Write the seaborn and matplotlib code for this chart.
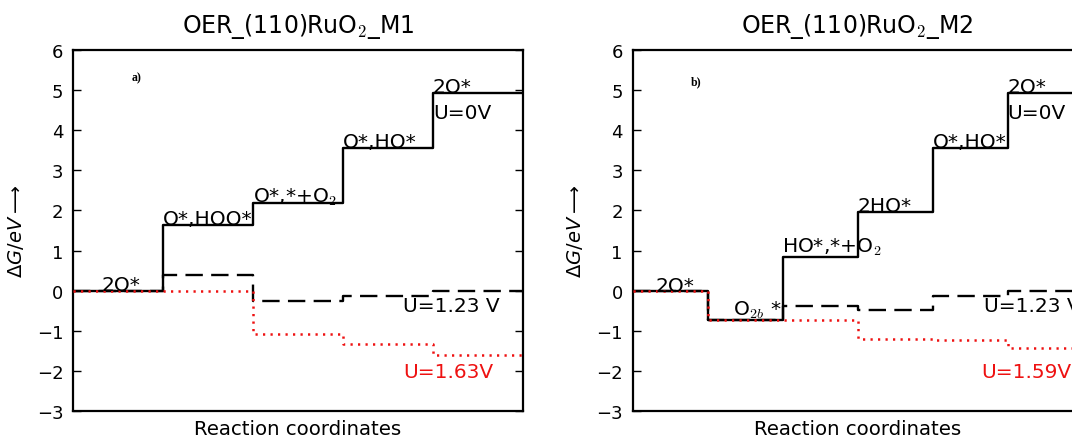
import numpy as np
import pandas as pd
import matplotlib
matplotlib.use("Agg")
import matplotlib.pyplot as plt
import seaborn as sns

# ---------------- data ----------------
titles = ["OER_(110)RuO$_2$_M1", "OER_(110)RuO$_2$_M2"]
panel_tags = ["a)", "b)"]

states_m1 = ["2O*", "O*,HOO*", "O*,*+O$_2$", "O*,HO*", "2O*"]
g_m1_u0 = [0.0, 1.63, 2.19, 3.55, 4.92]
g_m1_u123 = [0.0, 0.40, -0.27, -0.14, 0.0]
g_m1_u163 = [0.0, 0.0, -1.07, -1.34, -1.60]

states_m2 = ["2O*", "O$_{2b}$ *", "HO*,*+O$_2$", "2HO*", "O*,HO*", "2O*"]
g_m2_u0 = [0.0, -0.72, 0.85, 1.97, 3.55, 4.92]
g_m2_u123 = [0.0, -0.72, -0.38, -0.49, -0.14, 0.0]
g_m2_u159 = [0.0, -0.72, -0.74, -1.21, -1.22, -1.44]

u_labels_m1 = ["U=0V", "U=1.23 V", "U=1.63V"]
u_labels_m2 = ["U=0V", "U=1.23 V", "U=1.59V"]

y_ticks = [-3, -2, -1, 0, 1, 2, 3, 4, 5, 6]

# ---------------- layout ----------------
W, H = 1072, 439
sns.set_theme(style="white")
plt.rcParams["font.family"] = ["DejaVu Sans"]
plt.rcParams["lines.scale_dashes"] = False
plt.rcParams["text.color"] = "black"
plt.rcParams["axes.labelcolor"] = "black"
plt.rcParams["xtick.color"] = "black"
plt.rcParams["ytick.color"] = "black"

fig = plt.figure(figsize=(W / 100, H / 100), dpi=100)
ax_w = 450 / W
ax_h = 361 / H
ax_b = (H - 412) / H
axes = [fig.add_axes([73 / W, ax_b, ax_w, ax_h]),
        fig.add_axes([632.5 / W, ax_b, ax_w, ax_h])]

panels = [
    dict(states=states_m1, u0=g_m1_u0, u1=g_m1_u123, u2=g_m1_u163, ul=u_labels_m1,
         dx=[0.32, 0, 0, 0, 0], dy=[0.02, 0.04, 0.03, 0.04, 0.03],
         u1pos=(3.67, -0.50), u2pos=(3.67, -2.16), tagpos=(0.71, 5.32)),
    dict(states=states_m2, u0=g_m2_u0, u1=g_m2_u123, u2=g_m2_u159, ul=u_labels_m2,
         dx=[0.31, 0.34, 0, 0, 0, 0], dy=[0.0, 0.13, 0.13, 0.01, 0.04, 0.03],
         u1pos=(4.68, -0.50), u2pos=(4.65, -2.16), tagpos=(0.85, 5.21)),
]

red = "#ee1111"
styles = [dict(color="black", linestyle="-", lw=1.7, z=2),
          dict(color="black", linestyle=(0, (12.5, 6)), lw=1.7, z=3),
          dict(color=red, linestyle=(0, (1.6, 3.8)), lw=1.8, z=4)]

for ax, p, title, tag in zip(axes, panels, titles, panel_tags):
    n = len(p["states"])
    edges = np.arange(n + 1)
    for key, st in zip(["u0", "u1", "u2"], styles):
        vals = list(p[key]) + [p[key][-1]]
        df = pd.DataFrame({"x": edges, "g": vals})
        sns.lineplot(data=df, x="x", y="g", ax=ax, drawstyle="steps-post",
                     color=st["color"], linestyle=st["linestyle"], linewidth=st["lw"],
                     errorbar=None, zorder=st["z"])
    # state labels
    for i, (s, lev) in enumerate(zip(p["states"], p["u0"])):
        ax.text(i + p["dx"][i], lev + p["dy"][i], s, fontsize=14.5, ha="left",
                va="baseline", math_fontfamily="cm", color="black", zorder=5)
    ax.text(n - 1, 4.31, p["ul"][0], fontsize=14.5, ha="left", va="baseline", color="black")
    ax.text(p["u1pos"][0], p["u1pos"][1], p["ul"][1], fontsize=14.5, ha="left",
            va="baseline", color="black")
    ax.text(p["u2pos"][0], p["u2pos"][1], p["ul"][2], fontsize=14.5, ha="left",
            va="baseline", color=red)
    ax.text(p["tagpos"][0], p["tagpos"][1], tag, fontsize=8.5, ha="center", va="center",
            family="Liberation Serif", weight="bold", color="black")

    ax.set_xlim(0, n)
    ax.set_ylim(-3, 6)
    ax.set_xticks([])
    ax.set_yticks(y_ticks)
    ax.tick_params(axis="y", direction="in", length=6, width=1.0, left=True, right=True,
                   labelsize=13, pad=7, colors="black")
    for sp in ax.spines.values():
        sp.set_visible(True)
        sp.set_linewidth(1.6)
        sp.set_color("black")
    ax.set_title(title, fontsize=17, math_fontfamily="cm", pad=13, color="black")
    ax.set_xlabel("Reaction coordinates", fontsize=14.2, labelpad=6, color="black")
    ax.set_ylabel(r"$\Delta G/eV\longrightarrow$", fontsize=14, math_fontfamily="dejavusans",
                  labelpad=8, color="black")
    ax.set_facecolor("white")

fig.savefig("out.png", dpi=100, facecolor="white")
